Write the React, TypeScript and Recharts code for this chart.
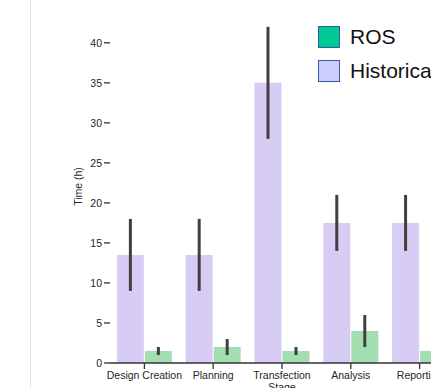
import { BarChart, Bar, XAxis, YAxis, ErrorBar, Label } from 'recharts';

const stages = ['Design Creation', 'Planning', 'Transfection\nStage', 'Analysis', 'Reporting'];
const historical = [13.5, 13.5, 35, 17.5, 17.5];
const historicalLow = [9, 9, 28, 14, 14];
const historicalHigh = [18, 18, 42, 21, 21];
const ros = [1.5, 2, 1.5, 4, 1.5];
const rosLow = [1, 1, 1, 2, 1];
const rosHigh = [2, 3, 2, 6, 2];
const yTicks = [0, 5, 10, 15, 20, 25, 30, 35, 40];

const legendItems = [
  { name: 'ROS', color: '#00C994' },
  { name: 'Historical', color: '#CCCCFF' },
];

const data = stages.map((stage, i) => ({
  stage,
  historical: historical[i],
  historicalErr: [historical[i] - historicalLow[i], historicalHigh[i] - historical[i]],
  ros: ros[i],
  rosErr: [ros[i] - rosLow[i], rosHigh[i] - ros[i]],
}));

const font = '"Liberation Sans", Arial, sans-serif';
const tickFont = 10.5;

const StageTick = (props: any) => {
  const { x, y, payload } = props;
  const lines = String(payload.value).split('\n');
  return (
    <text x={x} y={y} textAnchor="middle" fontSize={tickFont} fill="#262626" fontFamily={font}>
      {lines.map((line, i) => (
        <tspan key={i} x={x} dy={i === 0 ? '0.75em' : '1.2em'}>
          {line}
        </tspan>
      ))}
    </text>
  );
};

// legend sits over the plot like the matplotlib one, so it is kept outside the chart layout
const LegendBox = () => (
  <div style={{ position: 'absolute', top: 20, left: 318, fontFamily: font }}>
    {legendItems.map((item) => (
      <div key={item.name} style={{ display: 'flex', alignItems: 'center', height: 34 }}>
        <div
          style={{
            width: 20,
            height: 20,
            background: item.color,
            border: '1.5px solid #2F5F9F',
            marginRight: 10,
          }}
        />
        <span style={{ fontSize: 21, color: '#111', whiteSpace: 'nowrap' }}>{item.name}</span>
      </div>
    ))}
  </div>
);

export default function App() {
  // fixed frame so the cropped chart never makes the page scroll
  return (
    <div style={{ position: 'fixed', left: 0, top: 0, width: 431, height: 388, overflow: 'hidden', background: '#fff' }}>
      <div style={{ position: 'absolute', left: 30, top: 0, width: 1, height: 388, background: '#e2e2e2' }} />
      <div style={{ position: 'absolute', left: 8, top: 8 }}>
        <BarChart
          width={450}
          height={400}
          data={data}
          margin={{ top: 2, right: 4, bottom: 5, left: 42 }}
          barCategoryGap="10%"
          barGap={1}
        >
          <XAxis
            dataKey="stage"
            height={40}
            tick={<StageTick />}
            tickSize={6}
            axisLine={{ stroke: '#333', strokeWidth: 1.3 }}
            tickLine={{ stroke: '#333', strokeWidth: 1.3 }}
            interval={0}
          />
          <YAxis
            width={60}
            domain={[0, 44.1]}
            ticks={yTicks}
            axisLine={false}
            tickSize={6}
            tickLine={{ stroke: '#333', strokeWidth: 1.3 }}
            tick={{ fontSize: tickFont, fill: '#262626', fontFamily: font }}
          >
            <Label
              value="Time (h)"
              angle={-90}
              position="insideLeft"
              offset={28}
              style={{ fontSize: tickFont, fill: '#262626', fontFamily: font, textAnchor: 'middle' }}
            />
          </YAxis>
          <Bar dataKey="historical" fill="#D7CCF4" isAnimationActive={false}>
            <ErrorBar dataKey="historicalErr" width={0} strokeWidth={3} stroke="#404040" direction="y" />
          </Bar>
          <Bar dataKey="ros" fill="#A3DEB1" isAnimationActive={false}>
            <ErrorBar dataKey="rosErr" width={0} strokeWidth={3} stroke="#404040" direction="y" />
          </Bar>
        </BarChart>
      </div>
      <LegendBox />
    </div>
  );
}
